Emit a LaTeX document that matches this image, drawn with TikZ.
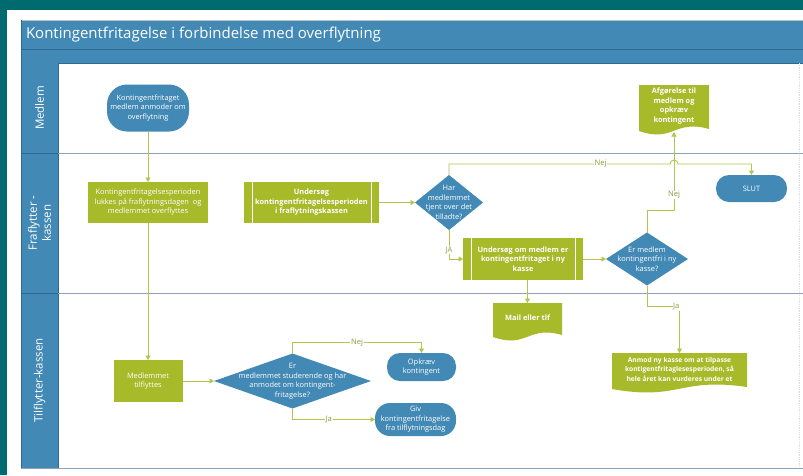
\documentclass[tikz,border=0pt]{standalone}
\usepackage{fontspec}
\setmainfont{Open Sans}
\usetikzlibrary{arrows.meta,calc}
\definecolor{teal0}{HTML}{006B6E}
\definecolor{blu}{HTML}{4389B5}
\definecolor{bludark}{HTML}{2E6A92}
\definecolor{grn}{HTML}{A6BA2A}
\definecolor{grnline}{HTML}{B2C54C}
\definecolor{lanel}{HTML}{8CA3BA}
\definecolor{lbltext}{HTML}{8C9C3A}
\pgfdeclarelayer{back}
\pgfdeclarelayer{mid}
\pgfsetlayers{back,mid,main}
\newcommand\nfs{\fontsize{7.4}{9.5}\selectfont}
\newcommand\docfill[2]{%
  \fill[grn] (#1.north west) -- (#1.north east) -- ($(#1.north east)+(0,#2-2)$)
    .. controls ($(#1.north)+(0,#2-12)$) and ($(#1.north)+(0,#2+12)$) ..
    ($(#1.north west)+(0,#2)$) -- cycle;}
\begin{document}
\begin{tikzpicture}[x=1pt,y=-1pt,
  every node/.style={outer sep=0pt, inner sep=1pt, align=center, font=\nfs, text=white},
  term/.style={fill=blu, rounded corners=#1},
  gbox/.style={fill=grn},
  subp/.style={fill=grn, font=\nfs\bfseries},
  dia/.style={rectangle, path picture={\fill[blu] (path picture bounding box.north) -- (path picture bounding box.east) -- (path picture bounding box.south) -- (path picture bounding box.west) -- cycle;}},
  doc/.style={font=\nfs\bfseries},
  conn/.style={draw=grnline, line width=0.9pt, -{Triangle[width=5pt,length=4.5pt]}},
  lbl/.style={fill=white, text=lbltext, font=\fontsize{7.6}{8}\selectfont, inner sep=0.6pt},
  lane/.style={draw=lanel, line width=0.9pt},
  lanelabel/.style={rotate=90, font=\fontsize{11.5}{14}\selectfont, text=white}
]
\useasboundingbox (0,0) rectangle (803,475);
\begin{pgfonlayer}{back}
\fill[teal0] (0,0) rectangle (803,475);
\fill[white] (7,10) rectangle (803,475);
% title bar and band
\fill[blu] (21,20) rectangle (803,63);
\draw[gray!50, line width=0.6pt] (21,20) -- (803,20);
\draw[bludark, line width=0.7pt] (21,49.5) -- (803,49.5);
\draw[bludark, line width=0.7pt] (21,63) -- (803,63);
% header column
\fill[blu] (21,63) rectangle (58,468);
\draw[bludark, line width=0.6pt] (21,20) -- (21,468);
\draw[bludark, line width=0.6pt] (58,63) -- (58,468);
% right boundary
\draw[gray!25, line width=0.8pt, densely dotted] (799,63) -- (799,468);
% lanes
\draw[lane] (21,153) -- (803,153);
\draw[lane] (21,293) -- (803,293);
\draw[lane] (21,468) -- (803,468);
\draw[bludark, line width=0.7pt] (21,153) -- (58,153);
\draw[bludark, line width=0.7pt] (21,293) -- (58,293);
\end{pgfonlayer}

\node[anchor=west, font=\fontsize{15}{17}\selectfont] (title) at (25,35) {Kontingentfritagelse i forbindelse med overflytning};
\node[lanelabel] (l1) at (39.5,108) {Medlem};
\node[lanelabel] (l2) at (39.5,223) {Fraflytter -\\kassen};
\node[lanelabel] (l3) at (39.5,380.5) {Tilflytter-kassen};

% Medlem lane
\node[term=20pt, minimum width=82pt, minimum height=47pt] (start) at (148,108) {Kontingentfritaget\\medlem anmoder om\\overflytning};
\node[doc, minimum width=70pt, minimum height=42pt] (afg) at (674,106) {Afgørelse til\\medlem og\\opkræv\\kontingent};

% Fraflytter lane
\node[gbox, minimum width=120pt, minimum height=41pt] (box1) at (148,202.5) {Kontingentfritagelsesperioden\\lukkes på fraflytningsdagen~ og\\medlemmet overflyttes};
\node[subp, minimum width=135pt, minimum height=41pt] (und1) at (311.5,202.5) {Undersøg\\kontingentfritagelsesperioden\\i fraflytningskassen};
\node[dia, minimum width=68pt, minimum height=55pt] (d1) at (449,202.5) {Har\\medlemmet\\tjent over det\\tilladte?};
\node[term=13pt, minimum width=71pt, minimum height=27pt] (slut) at (751.5,188.5) {SLUT};
\node[subp, minimum width=120pt, minimum height=42pt] (und2) at (523,259) {Undersøg om medlem er\\kontingentfritaget i ny\\kasse};
\node[dia, minimum width=82pt, minimum height=53pt] (d2) at (647,259) {Er medlem\\kontingentfri i ny\\kasse?};

% Tilflytter lane
\node[doc, minimum width=69pt, minimum height=30pt] (mail) at (527.5,318) {Mail eller tlf};
\node[doc, minimum width=135pt, minimum height=32pt, font=\fontsize{6.7}{9.5}\selectfont\bfseries] (anmod) at (679.5,369) {Anmod ny kasse om at tilpasse\\kontigentfritaglesesperioden, så\\hele året kan vurderes under et};
\node[gbox, minimum width=69pt, minimum height=42pt] (tilfl) at (148,381) {Medlemmet\\tilflyttes};
\node[dia, minimum width=157pt, minimum height=55pt] (d3) at (292.5,381) {Er\\medlemmet studerende og har\\anmodet om kontingent-\\fritagelse?};
\node[term=13pt, minimum width=69pt, minimum height=28pt] (opk) at (421.5,367) {Opkræv\\kontingent};
\node[term=15pt, minimum width=81pt, minimum height=33pt] (giv) at (415.5,419.5) {Giv\\kontingentfritagelse\\fra tilflytningsdag};

% subprocess inner lines
\foreach \n in {und1,und2}{
  \draw[white, line width=0.6pt] ([xshift=8pt]\n.north west) -- ([xshift=8pt]\n.south west);
  \draw[white, line width=0.6pt] ([xshift=-8pt]\n.north east) -- ([xshift=-8pt]\n.south east);
}

% document shapes
\begin{pgfonlayer}{mid}
\docfill{afg}{46}
\docfill{mail}{34}
\docfill{anmod}{36}
\end{pgfonlayer}

\coordinate (jmp) at (674,164);

% connectors
\draw[conn] (start.south) -- (box1.north);
\draw[conn] (box1.south) -- (tilfl.north);
\draw[conn] (tilfl.east) -- (d3.west);
\draw[conn] (d3.north) -- ++(0,-11) -| node[lbl,pos=0.25]{Nej} (opk.north);
\draw[conn] (d3.south) |- node[lbl,pos=0.72]{Ja} (giv.west);
\draw[conn] (und1.east) -- (d1.west);
\draw[conn] (d1.north) -- ++(0,-11) -- node[lbl,pos=0.686]{Nej} ([xshift=-4pt]jmp) arc[start angle=180,end angle=0,radius=4pt] -| (slut.north);
\draw[conn] (d1.south) |- node[lbl,pos=0.35]{JA} (und2.west);
\draw[conn] (und2.east) -- (d2.west);
\draw[conn] (d2.north) -- ++(0,-22) -| node[lbl,pos=0.6]{Nej} ([yshift=-5pt]afg.south);
\draw[conn] (d2.south) -- ++(0,21) -| node[lbl,pos=0.45]{Ja} (anmod.north);
\draw[conn] (und2.south -| mail.north) -- (mail.north);
\end{tikzpicture}
\end{document}
